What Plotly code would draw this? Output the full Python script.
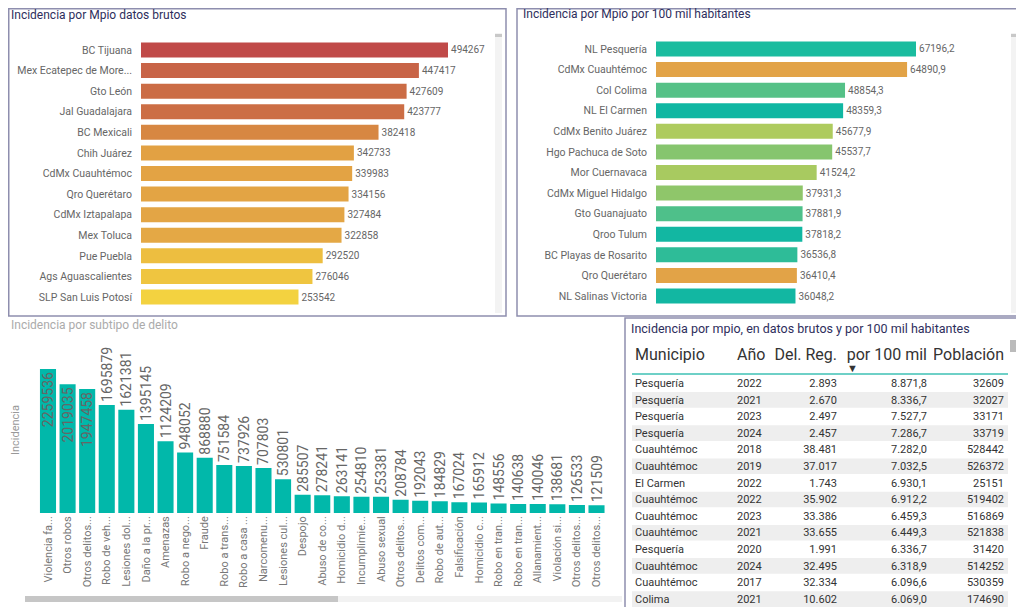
import plotly.graph_objects as go

# the page body adds an 8px margin, so the figure is drawn 8px in
OFF = 8
FW, FH = 1024 - OFF, 607 - OFF

# Incidencia por Mpio datos brutos
mpios_brutos = ["BC Tijuana", "Mex Ecatepec de More...", "Gto León", "Jal Guadalajara",
                "BC Mexicali", "Chih Juárez", "CdMx Cuauhtémoc", "Qro Querétaro",
                "CdMx Iztapalapa", "Mex Toluca", "Pue Puebla", "Ags Aguascalientes",
                "SLP San Luis Potosí"]
incid_brutos = [494267, 447417, 427609, 423777, 382418, 342733, 339983, 334156,
                327484, 322858, 292520, 276046, 253542]
colores_brutos = ["#C04A48", "#C86447", "#CB6C45", "#CC6E45", "#D78742", "#E2A143",
                  "#E3A344", "#E3A444", "#E3A545", "#E4A845", "#EDBE40", "#EFC540",
                  "#F3D240"]

# Incidencia por Mpio por 100 mil habitantes
mpios_100mil = ["NL Pesquería", "CdMx Cuauhtémoc", "Col Colima", "NL El Carmen",
                "CdMx Benito Juárez", "Hgo Pachuca de Soto", "Mor Cuernavaca",
                "CdMx Miguel Hidalgo", "Gto Guanajuato", "Qroo Tulum",
                "BC Playas de Rosarito", "Qro Querétaro", "NL Salinas Victoria"]
incid_100mil = [67196.2, 64890.9, 48854.3, 48359.3, 45677.9, 45537.7, 41524.2,
                37931.3, 37881.9, 37818.2, 36536.8, 36410.4, 36048.2]
colores_100mil = ["#1ABC9F", "#E2A347", "#55C187", "#10B7A2", "#AECB5E", "#86C56E",
                  "#A8CA60", "#8FC66A", "#4EC08A", "#12B7A2", "#2EBC98", "#E2A347",
                  "#12B7A2"]

# Incidencia por subtipo de delito
subtipos = ["Violencia fa...", "Otros robos", "Otros delitos...", "Robo de veh...",
            "Lesiones dol...", "Daño a la pr...", "Amenazas", "Robo a nego...",
            "Fraude", "Robo a trans...", "Robo a casa ...", "Narcomenu...",
            "Lesiones cul...", "Despojo", "Abuso de co...", "Homicidio d...",
            "Incumplimie...", "Abuso sexual", "Otros delitos...", "Delitos com...",
            "Robo de aut...", "Falsificación", "Homicidio c...", "Robo en tran...",
            "Robo en tran...", "Allanamient...", "Violación si...", "Otros delitos...",
            "Otros delitos..."]
incid_subtipo = [2259536, 2019035, 1947458, 1695879, 1621381, 1395145, 1124209,
                 948052, 868880, 751584, 737926, 707803, 530801, 285507, 278241,
                 263141, 254810, 253381, 208784, 192043, 184829, 167024, 165912,
                 148556, 140638, 140046, 138681, 126533, 121509]

# Tabla
tabla_cols = ["Municipio", "Año", "Del.\u00a0Reg.", "por\u00a0100\u00a0mil", "Población"]
tabla_mpio = ["Pesquería", "Pesquería", "Pesquería", "Pesquería", "Cuauhtémoc",
              "Cuauhtémoc", "El Carmen", "Cuauhtémoc", "Cuauhtémoc", "Cuauhtémoc",
              "Pesquería", "Cuauhtémoc", "Cuauhtémoc", "Colima"]
tabla_anio = [2022, 2021, 2023, 2024, 2018, 2019, 2022, 2022, 2023, 2021, 2020,
              2024, 2017, 2021]
tabla_delreg = [2893, 2670, 2497, 2457, 38481, 37017, 1743, 35902, 33386, 33655,
                1991, 32495, 32334, 10602]
tabla_100mil = [8871.8, 8336.7, 7527.7, 7286.7, 7282.0, 7032.5, 6930.1, 6912.2,
                6459.3, 6449.3, 6336.7, 6318.9, 6096.6, 6069.0]
tabla_pob = [32609, 32027, 33171, 33719, 528442, 526372, 25151, 519402, 516869,
             521838, 31420, 514252, 530359, 174690]


def fx(p):
    return (max(p, OFF + 0.75) - OFF) / FW


def fy(p):
    return 1 - (max(p, OFF + 0.75) - OFF) / FH


def miles(v, dec=0):
    s = f"{v:,.{dec}f}"
    return s.replace(",", "X").replace(".", ",").replace("X", ".")


FONT = "Roboto"
ROW_H = 16.6
fig = go.Figure()

# top-left bars
fig.add_trace(go.Bar(
    x=incid_brutos, y=mpios_brutos, orientation="h",
    marker=dict(color=colores_brutos, line=dict(width=0)),
    width=0.73,
    text=[str(v) for v in incid_brutos], textposition="outside",
    textfont=dict(size=10, color="#666666"),
    cliponaxis=False, xaxis="x", yaxis="y", hoverinfo="skip"
))

# top-right bars
fig.add_trace(go.Bar(
    x=incid_100mil, y=mpios_100mil, orientation="h",
    marker=dict(color=colores_100mil, line=dict(width=0)),
    width=0.73,
    text=[f"{v:.1f}".replace(".", ",") for v in incid_100mil], textposition="outside",
    textfont=dict(size=10, color="#666666"),
    cliponaxis=False, xaxis="x2", yaxis="y2", hoverinfo="skip"
))

# bottom bars (numeric x because labels repeat)
idx = list(range(len(subtipos)))
fig.add_trace(go.Bar(
    x=idx, y=incid_subtipo,
    marker=dict(color="#01B8AA", line=dict(width=0)),
    width=0.82,
    text=[str(v) for v in incid_subtipo],
    textposition=["inside" if i < 3 else "outside" for i in idx],
    insidetextanchor="end",
    textangle=-90, constraintext="none",
    textfont=dict(size=14, color="#666666"),
    cliponaxis=False, xaxis="x3", yaxis="y3", hoverinfo="skip"
))

# table
fig.add_trace(go.Table(
    domain=dict(x=[fx(627), fx(1012)], y=[0, fy(340)]),
    columnwidth=[102, 42, 74, 90, 77],
    header=dict(
        values=tabla_cols,
        align=["left", "left", "right", "right", "right"],
        font=dict(family=FONT, size=16, color="#333333"),
        height=30.75, fill_color="rgba(0,0,0,0)", line_color="rgba(0,0,0,0)"
    ),
    cells=dict(
        values=[tabla_mpio, tabla_anio,
                [miles(v) for v in tabla_delreg],
                [miles(v, 1) for v in tabla_100mil],
                tabla_pob],
        align=["left", "left", "right", "right", "right"],
        font=dict(family=FONT, size=11, color="#333333"),
        height=ROW_H, fill_color="rgba(0,0,0,0)", line_color="rgba(0,0,0,0)"
    )
))

cat_font = dict(family=FONT, size=10.5, color="#666666")
fig.update_layout(
    width=FW, height=FH, margin=dict(l=0, r=0, t=0, b=0),
    paper_bgcolor="white", plot_bgcolor="white", showlegend=False,
    font=dict(family=FONT),
    xaxis=dict(domain=[fx(141), fx(490)], range=[0, max(incid_brutos) * 349 / 307],
               visible=False, anchor="y"),
    yaxis=dict(domain=[fy(307.3), fy(39.7)], autorange="reversed", anchor="x",
               showgrid=False, zeroline=False, showline=False, ticks="",
               ticklabelstandoff=8, tickfont=cat_font),
    xaxis2=dict(domain=[fx(656), fx(1005)], range=[0, max(incid_100mil) * 349 / 260],
                visible=False, anchor="y2"),
    yaxis2=dict(domain=[fy(306.3), fy(38.7)], autorange="reversed", anchor="x2",
                showgrid=False, zeroline=False, showline=False, ticks="",
                ticklabelstandoff=8, tickfont=cat_font),
    xaxis3=dict(domain=[fx(38.2), fx(606.3)], range=[-0.5, len(subtipos) - 0.5],
                tickvals=idx, ticktext=subtipos, tickangle=-90, anchor="y3",
                showgrid=False, zeroline=False, showline=False, ticks="",
                tickfont=dict(family=FONT, size=11, color="#777777")),
    yaxis3=dict(domain=[fy(513), fy(347)], range=[0, max(incid_subtipo) * 166 / 144],
                visible=False, anchor="x3"),
)

# panel frames, scrollbars, table striping
frame = dict(color="#8E8EAE", width=1.5)
shapes = [
    dict(type="rect", x0=fx(3), x1=fx(506), y0=fy(316), y1=fy(5), line=frame),
    dict(type="rect", x0=fx(517), x1=fx(1021), y0=fy(316), y1=fy(4), line=frame),
    dict(type="rect", x0=fx(625), x1=fx(1022), y0=fy(620), y1=fy(318), line=frame),
    dict(type="rect", x0=fx(495), x1=fx(502), y0=fy(313), y1=fy(33),
         fillcolor="#F3F3F3", line_width=0),
    dict(type="rect", x0=fx(495), x1=fx(502), y0=fy(37), y1=fy(34),
         fillcolor="#C8C8C8", line_width=0),
    dict(type="rect", x0=fx(1011), x1=fx(1018), y0=fy(313), y1=fy(33),
         fillcolor="#F3F3F3", line_width=0),
    dict(type="rect", x0=fx(1011), x1=fx(1018), y0=fy(37), y1=fy(34),
         fillcolor="#C8C8C8", line_width=0),
    dict(type="rect", x0=fx(338), x1=fx(622), y0=fy(602), y1=fy(596),
         fillcolor="#F2F2F2", line_width=0),
    dict(type="rect", x0=fx(25), x1=fx(338), y0=fy(602), y1=fy(596),
         fillcolor="#C6C6C6", line_width=0),
    dict(type="line", x0=fx(632), x1=fx(1008), y0=fy(374), y1=fy(374),
         line=dict(color="#3EC1B4", width=1.5)),
    dict(type="rect", x0=fx(1010), x1=fx(1016), y0=fy(352), y1=fy(340),
         fillcolor="#BBBBBB", line_width=0),
]
for i in range(1, len(tabla_mpio), 2):
    top = 375 + ROW_H * i
    shapes.append(dict(type="rect", x0=fx(632), x1=fx(1008), y0=fy(top + ROW_H - 0.5),
                       y1=fy(top + 0.5), fillcolor="#EEEEEE", line_width=0, layer="below"))
fig.update_layout(shapes=[dict(s, xref="paper", yref="paper") for s in shapes])


def label(txt, x, y, size, color, angle=0, anchor="left"):
    fig.add_annotation(text=txt, x=fx(x), y=fy(y), xref="paper", yref="paper",
                       xanchor=anchor, yanchor="middle", showarrow=False,
                       textangle=angle, font=dict(family=FONT, size=size, color=color))


label("Incidencia por Mpio datos brutos", 9, 15, 12, "#2E2E5C")
label("Incidencia por Mpio por 100 mil habitantes", 521, 14, 12, "#2E2E5C")
label("Incidencia por subtipo de delito", 9, 325, 12, "#ABABAB")
label("Incidencia por mpio, en datos brutos y por 100 mil habitantes", 629, 328, 12.5, "#2E2E5C")
label("Incidencia", 15, 430, 11, "#999999", angle=-90, anchor="center")
label("▼", 852, 368, 11, "#333333", anchor="center")

fig.write_html("out.html")
